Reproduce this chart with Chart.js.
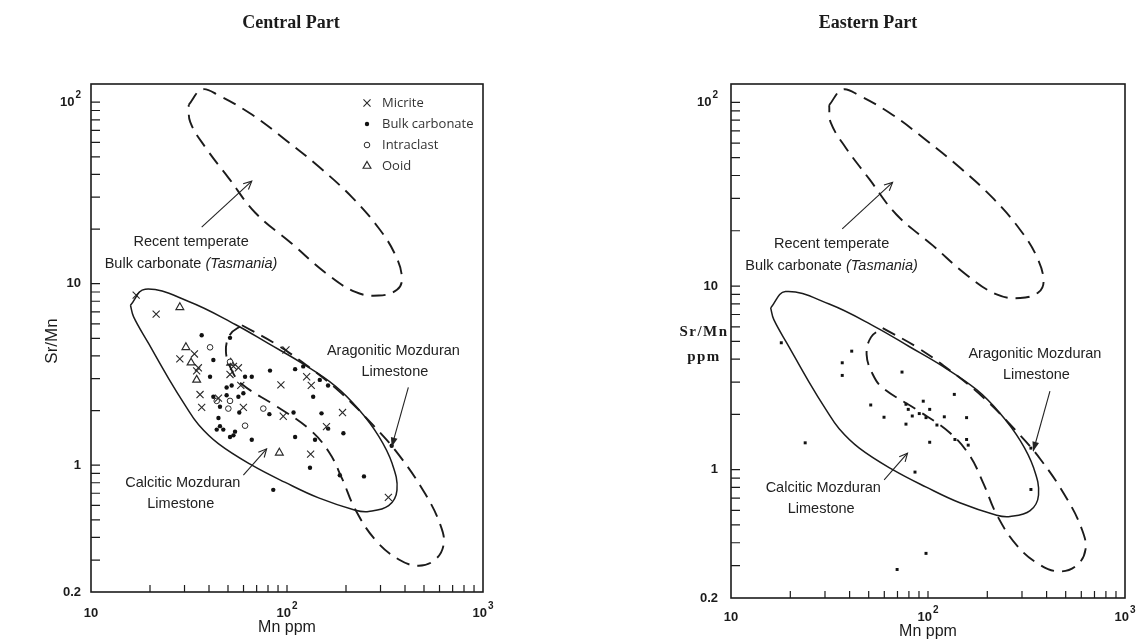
<!DOCTYPE html>
<html>
<head>
<meta charset="utf-8">
<script src="https://cdn.jsdelivr.net/npm/chart.js@4.4.0/dist/chart.umd.min.js"></script>
<style>
  body { margin: 0; background: #fff; }
  #wrap { position: relative; width: 1144px; height: 643px; }
  canvas { position: absolute; top: 0; }
</style>
</head>
<body>
<div id="wrap">
  <canvas id="central" width="572" height="643" style="left:0"></canvas>
  <canvas id="eastern" width="572" height="643" style="left:572px"></canvas>
</div>
<script>
// axes
const xMinorTicks = [20, 30, 40, 50, 60, 70, 80, 90, 100, 200, 300, 400, 500, 600, 700, 800, 900];
const yMinorTicks = [0.3, 0.4, 0.5, 0.6, 0.7, 0.8, 0.9, 1, 2, 3, 4, 5, 6, 7, 8, 9, 10, 20, 30, 40, 50, 60, 70, 80, 90, 100];
const xTickValues = [10, 100, 1000];
const xTickLabels = ['10', '10²', '10³'];
const yTickValues = [0.2, 1, 10, 100];
const yTickLabels = ['0.2', '1', '10', '10²'];
const xTitle = 'Mn ppm';

// envelopes (Mn ppm, Sr/Mn)
const tasmaniaMn = [31.5, 36.8, 44.8, 66.2, 98, 145, 215, 294, 357, 386, 364, 294, 223, 157, 106, 68.9, 50.4, 38.3, 32.1];
const tasmaniaSrMn = [96.7, 117.5, 109, 85.5, 62.2, 44.2, 29.9, 20.2, 14.4, 10.7, 9.25, 8.6, 9.0, 11.5, 16.6, 24.6, 38.2, 56.5, 77.6];
const calciticMn = [15.9, 18.9, 31.5, 54.5, 80.6, 119, 177, 232, 294, 344, 364, 330, 261, 223, 145, 98, 66.2, 44.8, 35.4, 30.3, 24.9, 19.7, 16.5];
const calciticSrMn = [7.6, 9.33, 7.98, 5.96, 4.67, 3.65, 2.72, 2.03, 1.44, 1.02, 0.728, 0.598, 0.556, 0.565, 0.66, 0.803, 1.0, 1.31, 1.67, 2.13, 3.0, 4.67, 6.56];
const aragoniticMn = [58.9, 87.1, 129, 191, 275, 372, 508, 606, 630, 571, 470, 372, 283, 223, 191, 163, 129, 87.1, 58.9, 52.4, 48.8, 51.4];
const aragoniticSrMn = [5.90, 4.67, 3.48, 2.47, 1.66, 1.14, 0.693, 0.469, 0.367, 0.302, 0.279, 0.302, 0.386, 0.570, 0.843, 1.19, 1.59, 2.13, 2.79, 3.31, 4.23, 5.27];

// Central Part samples
const micriteMn = [17.0, 21.5, 28.4, 33.7, 35.3, 34.6, 36.0, 36.7, 44.7, 53.3, 56.5, 58.1, 59.9, 51.2, 93.1, 98.8, 126, 133, 159, 192, 132, 329, 95.7];
const micriteSrMn = [8.65, 6.79, 3.85, 4.10, 3.44, 3.31, 2.45, 2.08, 2.34, 3.50, 3.44, 2.75, 2.08, 3.16, 2.77, 4.31, 3.07, 2.75, 1.63, 1.95, 1.15, 0.664, 1.86];
const bulkMn = [36.7, 51.2, 42.1, 40.5, 52.2, 61.1, 66.1, 81.9, 110, 121, 147, 162, 136, 108, 150, 194, 162, 110, 139, 186, 247, 131, 85.1, 66.1, 54.3, 51.2, 47.3, 45.5, 44.7, 45.5, 49.2, 49.2, 42.1, 56.5, 57.1, 81.3, 342, 43.8, 53.3, 59.9];
const bulkSrMn = [5.20, 5.03, 3.80, 3.07, 2.75, 3.07, 3.07, 3.32, 3.38, 3.50, 2.95, 2.75, 2.38, 1.95, 1.93, 1.50, 1.59, 1.43, 1.38, 0.879, 0.867, 0.968, 0.731, 1.38, 1.53, 1.43, 1.57, 1.64, 1.82, 2.10, 2.43, 2.68, 2.38, 2.38, 1.95, 1.91, 1.28, 1.57, 1.46, 2.49];
const intraclastMn = [40.5, 51.2, 51.2, 50.2, 61.1, 75.7, 43.8];
const intraclastSrMn = [4.46, 3.71, 2.26, 2.05, 1.65, 2.05, 2.26];
const ooidMn = [28.4, 30.5, 32.4, 34.6, 91.4, 51.6];
const ooidSrMn = [7.41, 4.46, 3.67, 2.95, 1.17, 3.66];

// Eastern Part samples
const easternMn = [18.0, 41.0, 36.7, 36.7, 73.8, 51.2, 59.8, 77.3, 79.4, 83.2, 94.6, 102, 90.3, 97.7, 111, 121, 136, 157, 137, 157, 160, 102, 77.3, 23.8, 85.9, 97.7, 69.7, 333, 333];
const easternSrMn = [4.91, 4.42, 3.82, 3.26, 3.40, 2.25, 1.93, 2.27, 2.13, 1.96, 2.36, 2.13, 2.02, 1.92, 1.75, 1.94, 2.57, 1.92, 1.46, 1.46, 1.36, 1.41, 1.77, 1.40, 0.97, 0.350, 0.286, 0.78, 1.31];

// notes and arrows
const noteText = ['Recent temperate', 'Bulk carbonate ', 'Aragonitic Mozduran', 'Limestone', 'Calcitic Mozduran', 'Limestone'];
const noteItalic = ['', '(Tasmania)', '', '', '', ''];
const noteMn = [32.4, 32.4, 349, 355, 29.4, 28.7];
const noteSrMn = [16.9, 12.9, 4.25, 3.28, 0.798, 0.612];
const arrowFromMn = [36.7, 416, 59.9];
const arrowFromSrMn = [20.5, 2.68, 0.88];
const arrowToMn = [66.1, 342, 78.7];
const arrowToSrMn = [36.7, 1.26, 1.23];
const arrowFilled = [false, true, false];

const ink = '#1b1b1b';
const pts = (xs, ys) => xs.map((v, i) => ({ x: v, y: ys[i] }));
const loop = (xs, ys) => { const p = pts(xs, ys); p.push(p[0]); return p; };

const envelope = (label, xs, ys, dashed) => ({
  label, data: loop(xs, ys), showLine: true, pointRadius: 0, fill: false,
  borderColor: ink, borderWidth: dashed ? 1.9 : 1.5, borderDash: dashed ? [14, 8] : [],
  tension: 0.4, inLegend: false
});

function powText(ctx, label, px, py, align) {
  const sup = label.endsWith('²') ? '2' : label.endsWith('³') ? '3' : '';
  const base = sup ? label.slice(0, -1) : label;
  ctx.font = 'bold 13px "Liberation Sans"';
  const wb = ctx.measureText(base).width;
  ctx.font = 'bold 10px "Liberation Sans"';
  const ws = sup ? ctx.measureText(sup).width + 1 : 0;
  const w = wb + ws;
  const x0 = align === 'right' ? px - w : align === 'center' ? px - w / 2 : px;
  ctx.textAlign = 'left';
  ctx.textBaseline = 'middle';
  ctx.font = 'bold 13px "Liberation Sans"';
  ctx.fillText(base, x0, py);
  if (sup) {
    ctx.font = 'bold 10px "Liberation Sans"';
    ctx.fillText(sup, x0 + wb + 1, py - 7);
  }
}

function arrow(ctx, x1, y1, x2, y2, filled) {
  const ang = Math.atan2(y2 - y1, x2 - x1);
  ctx.beginPath();
  ctx.moveTo(x1, y1);
  ctx.lineTo(x2, y2);
  ctx.stroke();
  const len = filled ? 10 : 9, spread = filled ? 0.35 : 0.45;
  ctx.beginPath();
  ctx.moveTo(x2 - len * Math.cos(ang - spread), y2 - len * Math.sin(ang - spread));
  ctx.lineTo(x2, y2);
  ctx.lineTo(x2 - len * Math.cos(ang + spread), y2 - len * Math.sin(ang + spread));
  if (filled) { ctx.closePath(); ctx.fill(); } else ctx.stroke();
}

const panelPlugin = {
  id: 'panel',
  afterDatasetsDraw(chart, args, o) {
    const { ctx, chartArea: a } = chart;
    const sx = chart.scales.x, sy = chart.scales.y;
    const X = v => sx.getPixelForValue(v), Y = v => sy.getPixelForValue(v);
    ctx.save();
    ctx.strokeStyle = ink;
    ctx.fillStyle = ink;

    // frame and inward ticks
    ctx.lineWidth = 1.6;
    ctx.strokeRect(a.left, a.top, a.right - a.left, a.bottom - a.top);
    ctx.lineWidth = 1.2;
    ctx.beginPath();
    xMinorTicks.forEach(v => { const p = X(v); ctx.moveTo(p, a.bottom); ctx.lineTo(p, a.bottom - 7); });
    yMinorTicks.forEach(v => { const p = Y(v); ctx.moveTo(a.left, p); ctx.lineTo(a.left + 9, p); });
    ctx.stroke();

    xTickValues.forEach((v, i) => powText(ctx, xTickLabels[i], X(v), a.bottom + o.xLabelGap, 'center'));
    yTickValues.forEach((v, i) => powText(ctx, yTickLabels[i], a.left - o.yLabelGap, Y(v), 'right'));

    // axis titles
    ctx.textAlign = 'center';
    ctx.textBaseline = 'middle';
    ctx.font = '16px "Liberation Sans"';
    ctx.fillText(xTitle, (a.left + a.right) / 2, a.bottom + o.xTitleGap);
    if (o.serifYTitle) {
      ctx.font = 'bold 15px "Liberation Serif"';
      ctx.letterSpacing = '1.5px';
      ctx.fillText('Sr/Mn', a.left - 27, 332);
      ctx.fillText('ppm', a.left - 27, 357);
      ctx.letterSpacing = '0px';
    } else {
      ctx.save();
      ctx.translate(a.left - 39, 341);
      ctx.rotate(-Math.PI / 2);
      ctx.font = '17px "Liberation Sans"';
      ctx.fillText('Sr/Mn', 0, 0);
      ctx.restore();
    }

    // panel title
    ctx.font = 'bold 18px "Liberation Serif"';
    ctx.fillText(o.title, o.titleX, 23);

    // notes
    ctx.fillStyle = '#222';
    noteText.forEach((t, i) => {
      const px = X(noteMn[i]), py = Y(noteSrMn[i]);
      ctx.font = '14.5px "Liberation Sans"';
      const w1 = ctx.measureText(t).width;
      ctx.font = 'italic 14.5px "Liberation Sans"';
      const w2 = noteItalic[i] ? ctx.measureText(noteItalic[i]).width : 0;
      const x0 = px - (w1 + w2) / 2;
      ctx.textAlign = 'left';
      ctx.font = '14.5px "Liberation Sans"';
      ctx.fillText(t, x0, py);
      if (noteItalic[i]) {
        ctx.font = 'italic 14.5px "Liberation Sans"';
        ctx.fillText(noteItalic[i], x0 + w1, py);
      }
    });
    ctx.strokeStyle = '#222';
    ctx.lineWidth = 1.1;
    arrowFromMn.forEach((v, i) => arrow(ctx, X(v), Y(arrowFromSrMn[i]), X(arrowToMn[i]), Y(arrowToSrMn[i]), arrowFilled[i]));

    // legend
    if (o.legend) {
      let row = 0;
      chart.data.datasets.forEach(ds => {
        if (!ds.inLegend) return;
        const ly = a.top + 19 + row * 21;
        ctx.fillStyle = ds.backgroundColor;
        ctx.strokeStyle = ds.borderColor;
        ctx.lineWidth = ds.borderWidth;
        Chart.helpers.drawPoint(ctx, { pointStyle: ds.pointStyle, radius: ds.pointRadius, rotation: 0, borderWidth: ds.borderWidth }, a.right - 116, ly);
        ctx.fillStyle = '#333';
        ctx.font = '13px "Open Sans"';
        ctx.textAlign = 'left';
        ctx.textBaseline = 'middle';
        ctx.fillText(ds.label, a.right - 101, ly);
        row++;
      });
    }
    ctx.restore();
  }
};

const scatterSet = (label, xs, ys, style, r, fillCol, bw) => ({
  label, data: pts(xs, ys), pointStyle: style, pointRadius: r, pointHoverRadius: r,
  backgroundColor: fillCol, borderColor: '#2a2a2a', borderWidth: bw, inLegend: true
});

function makePanel(id, datasets, panelOpts, padding) {
  return new Chart(document.getElementById(id), {
    type: 'scatter',
    data: { datasets },
    options: {
      responsive: false,
      animation: false,
      devicePixelRatio: 1,
      layout: { padding },
      scales: {
        x: { type: 'logarithmic', min: 10, max: 1000, display: false },
        y: { type: 'logarithmic', min: 0.2, max: 126, display: false }
      },
      plugins: { legend: { display: false }, tooltip: { enabled: false }, panel: panelOpts }
    },
    plugins: [panelPlugin]
  });
}

makePanel('central', [
  envelope('Tasmania', tasmaniaMn, tasmaniaSrMn, true),
  envelope('Calcitic', calciticMn, calciticSrMn, false),
  envelope('Aragonitic', aragoniticMn, aragoniticSrMn, true),
  scatterSet('Micrite', micriteMn, micriteSrMn, 'crossRot', 5, '#2a2a2a', 1.1),
  scatterSet('Bulk carbonate', bulkMn, bulkSrMn, 'circle', 2.2, '#111', 0),
  scatterSet('Intraclast', intraclastMn, intraclastSrMn, 'circle', 2.8, '#fff', 1),
  scatterSet('Ooid', ooidMn, ooidSrMn, 'triangle', 4.5, '#fff', 1.2)
], { title: 'Central Part', titleX: 291, legend: true, serifYTitle: false, xLabelGap: 21, yLabelGap: 10, xTitleGap: 36 },
{ left: 91, top: 84, right: 89, bottom: 51 });

const eastDots = scatterSet('Bulk carbonate', easternMn, easternSrMn, 'rect', 2.1, '#111', 0);
eastDots.inLegend = false;
makePanel('eastern', [
  envelope('Tasmania', tasmaniaMn, tasmaniaSrMn, true),
  envelope('Calcitic', calciticMn, calciticSrMn, false),
  envelope('Aragonitic', aragoniticMn, aragoniticSrMn, true),
  eastDots
], { title: 'Eastern Part', titleX: 296, legend: false, serifYTitle: true, xLabelGap: 19, yLabelGap: 13, xTitleGap: 34 },
{ left: 159, top: 84, right: 19, bottom: 45 });
</script>
</body>
</html>
